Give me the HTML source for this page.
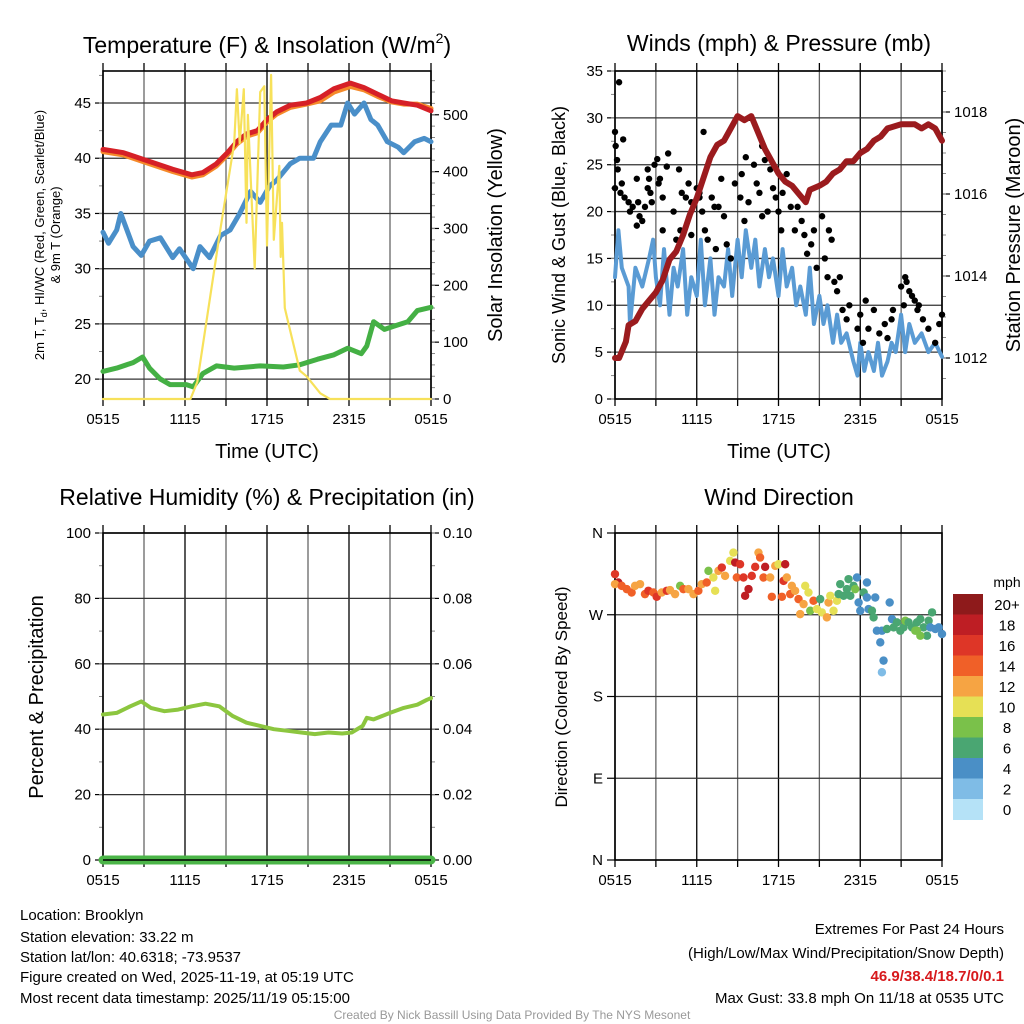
<!DOCTYPE html>
<html><head><meta charset="utf-8"><style>
html,body{margin:0;padding:0;background:#fff;}
svg{display:block;font-family:"Liberation Sans",sans-serif;}
</style></head><body>
<svg id="chart" width="1024" height="1024" viewBox="0 0 1024 1024" xmlns="http://www.w3.org/2000/svg">
<rect width="1024" height="1024" fill="#fff"/>
<g id="g1"></g>
<g id="g2"></g>
<g id="g3"></g>
<g id="g4"></g>
<text x="267" y="53" font-size="23" text-anchor="middle">Temperature (F) &amp; Insolation (W/m<tspan font-size="14" dy="-10">2</tspan><tspan dy="10">)</tspan></text>
<text x="779" y="51" font-size="23" text-anchor="middle">Winds (mph) &amp; Pressure (mb)</text>
<text x="267" y="505" font-size="23" text-anchor="middle">Relative Humidity (%) &amp; Precipitation (in)</text>
<text x="779" y="505" font-size="23" text-anchor="middle">Wind Direction</text>
<text x="267" y="458" font-size="20" text-anchor="middle">Time (UTC)</text>
<text x="779" y="458" font-size="20" text-anchor="middle">Time (UTC)</text>
<g font-size="13" text-anchor="middle">
<text transform="translate(44,235) rotate(-90)">2m T, T<tspan font-size="9" dy="3">d</tspan><tspan dy="-3">, HI/WC (Red, Green, Scarlet/Blue)</tspan></text>
<text transform="translate(60,235) rotate(-90)">&amp; 9m T (Orange)</text>
</g>
<text transform="translate(502,235) rotate(-90)" font-size="20" text-anchor="middle">Solar Insolation (Yellow)</text>
<text transform="translate(565,235) rotate(-90)" font-size="18" text-anchor="middle">Sonic Wind &amp; Gust (Blue, Black)</text>
<text transform="translate(1020,235) rotate(-90)" font-size="20" text-anchor="middle">Station Pressure (Maroon)</text>
<text transform="translate(43,697) rotate(-90)" font-size="20" text-anchor="middle">Percent &amp; Precipitation</text>
<text transform="translate(567,697) rotate(-90)" font-size="17" text-anchor="middle">Direction (Colored By Speed)</text>
<g font-size="15">
<text x="20" y="920">Location: Brooklyn</text>
<text x="20" y="942">Station elevation: 33.22 m</text>
<text x="20" y="962">Station lat/lon: 40.6318; -73.9537</text>
<text x="20" y="982">Figure created on Wed, 2025-11-19, at 05:19 UTC</text>
<text x="20" y="1003">Most recent data timestamp: 2025/11/19 05:15:00</text>
</g>
<g font-size="15" text-anchor="end">
<text x="1004" y="934">Extremes For Past 24 Hours</text>
<text x="1004" y="958">(High/Low/Max Wind/Precipitation/Snow Depth)</text>
<text x="1004" y="981" fill="#d7191c" font-weight="bold">46.9/38.4/18.7/0/0.1</text>
<text x="1004" y="1003">Max Gust: 33.8 mph On 11/18 at 0535 UTC</text>
</g>
<text x="512" y="1019" font-size="12" fill="#999" text-anchor="middle">Created By Nick Bassill Using Data Provided By The NYS Mesonet</text>
</svg>
<script>
// ---- data ----
const tickTimes = [0, 6, 12, 18, 24];
const tickLabels = ['0515', '1115', '1715', '2315', '0515'];
const tempT = [0,1.5,2.7,3.9,5.1,6.5,7.3,8.3,9.1,9.8,10.5,11.3,12,12.7,13.7,14.9,15.9,16.9,18.1,19.1,20.1,21.1,22,23,24];
const tempRed = [40.8,40.5,40,39.5,39,38.5,38.7,39.5,40.5,41.5,42.2,42.5,43.5,44.2,44.8,45,45.5,46.3,46.8,46.4,45.8,45.2,45,44.8,44.3];
const tempOrange = [40.6,40.3,39.8,39.3,38.8,38.3,38.5,39.3,40.3,41.3,42,42.3,43.3,44,44.6,44.9,45.2,46,46.5,46.2,45.6,45.1,44.9,44.9,44.5];
const blueT = [0,0.4,1,1.3,2.2,2.8,3.4,4.2,5.1,5.6,6.6,7.1,7.8,8.6,9.3,10,10.8,11.5,12.2,12.7,13.7,14.4,15.4,15.9,16.7,17.4,17.9,18.4,19.1,19.6,20.1,20.8,21.6,22,22.8,23.5,24];
const blueTemp = [33.3,32.3,33.5,35,32,31.2,32.5,32.8,31,31.8,30,32,31,33,33.5,35,37,36,37.5,38,39.5,40,40,41.5,43,43,45,44,45,43.5,43,41.5,41,40.5,41.5,41.8,41.5];
const dewT = [0,1,2.2,2.9,3.4,4.2,4.9,6.1,6.6,7.3,8.3,9.6,11.5,13.2,14.4,15.7,16.9,17.9,18.9,19.3,19.8,20.6,21.3,22.3,23,24];
const dewVals = [20.7,21,21.5,22,21,20,19.5,19.5,19.3,20.5,21.2,21,21.2,21.1,21.3,21.8,22.2,22.8,22.3,23,25.2,24.5,24.8,25.2,26.2,26.5];
const solT = [0,6.4,6.9,8.6,9.6,9.8,10,10.3,10.5,10.6,11.1,11.5,11.8,12,12.3,12.5,12.9,13,13.1,13.3,13.7,14.4,14.9,15.9,16.6,24];
const solVals = [0,0,30,300,450,545,450,545,310,500,230,540,550,270,570,280,410,250,310,160,120,50,40,10,0,0];
const windT = [0,0.25,0.5,1,1.1,1.5,2,2.5,2.8,3,3.3,3.6,4,4.3,4.6,5,5.3,5.6,6,6.3,6.6,7,7.3,7.6,8,8.3,8.6,9,9.3,9.6,10,10.3,10.6,11,11.3,11.6,12,12.3,12.6,13,13.3,13.6,14,14.3,14.6,15,15.3,15.6,16,16.3,16.6,17,17.5,17.8,18,18.3,18.6,19,19.3,19.6,20,20.3,20.6,21,21.3,21.6,22,22.5,23,23.5,24];
const windVals = [13,18,14,12,8,14,12,15,17,13,10,16,9,14,12,16,9,13,11,17,10,15,9,13,12,16,11,17,13,18,14,17,12,16,13,15,11,16,12,14,10,12,9,14,8,11,8,10,6,9,6,7,4,2.5,6,3,5,3,6,2.5,4,6,5,9,5,8,6,7,5,6,4.5];
const presT = [0,0.3,0.8,1,1.5,2,2.5,3,3.5,4,4.5,5,5.5,6,6.5,7,7.5,8,8.5,9,9.5,10,10.5,11,11.5,12,12.5,13,13.5,14,14.3,15,15.5,16,16.5,17,17.5,18,18.5,19,19.5,20,21,22,22.5,23,23.5,24];
const presVals = [1012,1012,1012.4,1012.8,1012.9,1013.2,1013.4,1013.6,1013.9,1014.4,1014.6,1015,1015.5,1015.9,1016.4,1016.9,1017.2,1017.3,1017.6,1017.9,1017.8,1017.9,1017.5,1017.1,1016.8,1016.5,1016.3,1016.2,1016,1015.8,1016.1,1016.2,1016.3,1016.5,1016.6,1016.8,1016.8,1017,1017.1,1017.3,1017.4,1017.6,1017.7,1017.7,1017.6,1017.7,1017.6,1017.3];
const gustT = [0,0,0.05,0.15,0.2,0.3,0.6,0.5,0.4,0.7,1,1.1,1.3,1.6,1.7,1.6,1.8,2,2.2,2.4,2.5,2.4,2.6,2.7,2.9,3.1,3.3,3.5,3.2,3.9,3.8,3.5,4.3,4.5,4.8,4.9,4.7,5.2,5.4,5.6,5.6,6,6.2,6.5,6.2,6.4,6.6,6.8,7.1,7.3,7.4,7.6,7.8,8,8.2,8.5,8.8,9.2,9.5,9.3,9.6,9.8,9.9,10.2,10.4,10.6,10.8,10.8,11,11.2,11.4,11.6,11.8,12,12.2,12.3,12.6,12.9,13.2,13.4,13.7,13.9,14.1,14.4,14.6,14.8,15.2,15.4,15.6,15.9,15.7,16.1,16.3,16.5,16.7,17.2,17,17.8,18.2,18,18.4,18.6,19,19.4,19.8,20,20.4,20.3,21,21.3,21.2,21.6,22,22.2,22.6,22.3,23,23.5,23.8,24,21.4,21.8];
const gustVals = [22.5,28.5,27,25.5,24.5,33.8,27.7,23,22,21.5,21,20,20.5,18.5,21,23.5,19.5,19,20.5,24.5,23.5,22.5,22,21,25,25.6,23.5,18,23,26.2,24.8,21.5,20,17,18,22,24.5,21.5,23,21,17.5,22.5,21.5,28.5,22,20,18,17,21.5,20.5,16,20.5,23.5,19.5,16.5,15,23,21.5,19,24,25.8,21,30,25,23,22,19.5,27,25.5,20,24.5,22.5,21.5,20,18,22,24,20.5,18,20.5,19,17.5,15.5,16.5,18,14,19.5,15,13,17,18,12.5,11.5,13,9.5,10,8.5,7.5,6,9,10.5,7.5,9.5,7,8,6.5,9.5,8.5,12,13,10,11.5,10.5,9.5,8.5,10,7.5,6,8,9,12.5,11];
const rhT = [0,1,2,2.8,3.5,4.5,5.5,6.5,7.5,8.5,9.5,10.5,11.5,12.5,13.5,14.5,15.5,16.5,17.5,18.2,19,19.3,19.8,21,22,23,23.7,24];
const rhVals = [44.5,45,47,48.5,46.5,45.5,46,47,47.8,47,44,42,41,40,39.5,39,38.5,39,38.7,39,41,43.5,43,45,46.5,47.5,49,49.5];
const precipT = [0,24];
const precipVals = [0,0];
const dirT = [0,0.24,0,0.49,0.86,1.22,1.47,1.84,2.2,2.45,2.82,3.06,3.43,3.8,4.04,4.41,4.78,5.02,5.39,5.76,6.12,6.37,6.73,6.86,7.22,7.35,7.59,7.84,8.08,8.45,8.69,8.82,9.18,8.94,9.43,9.55,9.8,10.04,10.29,10.53,10.65,11.02,10.9,11.39,11.51,11.76,12,12.25,12.37,12.49,12.61,12.86,12.98,13.22,13.47,13.59,13.84,13.96,14.2,14.33,14.57,14.82,15.06,15.18,15.55,15.67,15.8,16.04,16.29,16.41,16.53,16.78,17.02,17.14,17.27,17.51,17.63,17.76,17.88,18,18.25,18.49,18.49,18.61,18.86,18.98,19.1,19.22,19.47,19.59,19.71,19.59,19.96,20.16,20.33,20.45,20.69,20.94,21.18,21.31,21.55,21.8,22.04,22.16,22.41,22.65,22.9,23.02,23.14,23.27,23.51,23.76,24,22.41,22.16];
const dirVals = [314.7,305.5,303.7,301.8,298.2,294.5,301.8,303.7,292.7,296.4,294.5,289.8,294.5,296.4,297.1,292.7,301.8,298.2,298.2,292.7,296.4,303.7,305.5,318.3,311,296.4,318.3,322,312.8,329.3,338.4,327.5,325.6,311,311,290.9,298.2,312.8,322.7,338.4,333,322.7,311,311,289.8,323.8,325.6,289.8,307.3,325.6,311,292.7,301.8,296.4,287.2,270.7,281.7,301.8,294.5,274.4,285.4,276.2,287.2,272.6,267.1,283.5,290.9,274.4,285.4,292.7,303.7,290.9,298.2,309.2,290.9,301.8,298.2,311,283.5,274.4,294.5,305.5,289,276.2,274.4,267.1,289,252.4,239.6,252.4,219.5,206.7,254.3,283.5,265.2,256.1,261.6,252.4,256.1,263.4,261.6,256.1,252.4,261.6,265.2,256.1,246.9,263.4,256.1,272.6,254.3,256.1,248.8,246.9,252.4];
const dirSpeed = [16,18,12,14,14,14,13,12,15,16,14,16,13,16,12,12,8,14,12,12,14,12,15,8,10,10,12,16,13,10,10,18,16,14,16,18,18,16,16,12,14,18,15,13,15,12,10,14,16,18,12,15,12,12,15,12,12,10,10,8,14,10,6,10,12,12,10,10,10,6,6,6,6,6,6,6,8,4,4,4,6,4,4,4,6,6,4,4,4,4,4,2,6,4,4,6,6,6,6,8,6,6,8,6,6,6,6,6,4,6,4,4,4,8,8];
const cbLabels = ['20+','18','16','14','12','10','8','6','4','2','0'];
const cbColors = ['#8e1a1b','#be1e24','#de3627','#f06028','#f6a443','#e6e055','#7ac14a','#4aa672','#4a8fc6','#7fbce6','#b5e2f7'];

// ---- helpers ----
const NS = 'http://www.w3.org/2000/svg';
function mk(parent, tag, attrs, txt){
  const e = document.createElementNS(NS, tag);
  for (const k in attrs) e.setAttribute(k, attrs[k]);
  if (txt !== undefined) e.textContent = txt;
  parent.appendChild(e);
  return e;
}
function scale(d0,d1,r0,r1){ return v => r0 + (v-d0)/(d1-d0)*(r1-r0); }
function pathD(xs, ys, fx, fy){ return xs.map((t,i)=>(i?'L':'M')+fx(t).toFixed(1)+','+fy(ys[i]).toFixed(1)).join(''); }
function speedColor(s){ let idx = Math.min(10, Math.max(0, Math.floor(s/2))); return cbColors[10-idx]; }

function frame(g, L, R, T, B, fy, yTicks, yLabels, yMinor, rightTicks, rightFy, rightMinor){
  const fx = scale(0,24,L,R);
  for (let h=0; h<=24; h+=3){
    const x = fx(h);
    const gl = mk(g,'line',{x1:x,y1:T,x2:x,y2:B,stroke:(h%6==0)?'#000':'#666','stroke-width':1.3});
    
    
    mk(g,'line',{x1:x,y1:T-8,x2:x,y2:T,stroke:'#000','stroke-width':1.3});
    mk(g,'line',{x1:x,y1:B,x2:x,y2:B+7,stroke:'#000','stroke-width':1.3});
  }
  tickTimes.forEach((h,i)=>{
    const t = mk(g,'text',{x:fx(h),y:B+25,'font-size':15,'text-anchor':'middle'},tickLabels[i]);
    
    
  });
  yTicks.forEach((v,i)=>{
    const y = fy(v);
    const gl = mk(g,'line',{x1:L,y1:y,x2:R,y2:y,stroke:'#333','stroke-width':1.3});
    
    
    mk(g,'line',{x1:L-8,y1:y,x2:L,y2:y,stroke:'#000','stroke-width':1.2});
    const t = mk(g,'text',{x:L-12,y:y+5,'font-size':15,'text-anchor':'end'},yLabels[i]);
    
    
  });
  (yMinor||[]).forEach(v=>{ const y=fy(v); mk(g,'line',{x1:L-4,y1:y,x2:L,y2:y,stroke:'#888','stroke-width':1}); });
  if (rightTicks){
    rightTicks.vals.forEach((v,i)=>{
      const y = rightFy(v);
      mk(g,'line',{x1:R,y1:y,x2:R+8,y2:y,stroke:'#000','stroke-width':1.2});
      const t = mk(g,'text',{x:R+12,y:y+5,'font-size':15},rightTicks.labels[i]);
      
      
    });
    (rightMinor||[]).forEach(v=>{ const y=rightFy(v); mk(g,'line',{x1:R,y1:y,x2:R+4,y2:y,stroke:'#888','stroke-width':1}); });
  }
  const fr = mk(g,'rect',{x:L,y:T,width:R-L,height:B-T,fill:'none',stroke:'#000','stroke-width':1.6});
  
  
  return fx;
}
function line(g, xs, ys, fx, fy, color, w, name){
  const p = mk(g,'path',{d:pathD(xs,ys,fx,fy),fill:'none',stroke:color,'stroke-width':w,'stroke-linejoin':'round','stroke-linecap':'round'});
  
  
  return p;
}
function range(a,b,s){ const r=[]; for(let v=a; v<=b+1e-9; v+=s) r.push(+v.toFixed(4)); return r; }

// ---- panel 1 ----
(function(){
  const g = document.getElementById('g1');
  const L=103,R=431,T=71,B=399;
  const fy = scale(18.2,47.9,B,T);
  const fs = scale(0,577,B,T);
  const fx = frame(g,L,R,T,B,fy,[20,25,30,35,40,45],['20','25','30','35','40','45'],range(20,47.5,2.5),{vals:[0,100,200,300,400,500],labels:['0','100','200','300','400','500']},fs,range(0,575,20));
  line(g,dewT,dewVals,fx,fy,'#44b044',5,'dewpoint-line');
  line(g,blueT,blueTemp,fx,fy,'#4a8fc9',5,'windchill-line');
  line(g,tempT,tempOrange,fx,fy,'#f58a2a',5,'temp-9m-line');
  line(g,tempT,tempRed,fx,fy,'#d62027',5,'temp-2m-line');
  line(g,solT,solVals,fx,fs,'#f7e15a',2.2,'insolation-line');
})();

// ---- panel 2 ----
(function(){
  const g = document.getElementById('g2');
  const L=615,R=942,T=71,B=399;
  const fy = scale(0,35,B,T);
  const fp = scale(1011,1019,B,T);
  const fx = frame(g,L,R,T,B,fy,[0,5,10,15,20,25,30,35],['0','5','10','15','20','25','30','35'],range(0,35,2.5),{vals:[1012,1014,1016,1018],labels:['1012','1014','1016','1018']},fp,range(1011.5,1019,0.5));
  line(g,windT,windVals,fx,fy,'#5a9bd4',4,'sonic-wind-line');
  gustT.forEach((t,i)=>{
    const c = mk(g,'circle',{cx:fx(t),cy:fy(gustVals[i]),r:3.2,fill:'#000'});
    
    
  });
  line(g,presT,presVals,fx,fp,'#9b1b1e',6,'pressure-line');
})();

// ---- panel 3 ----
(function(){
  const g = document.getElementById('g3');
  const L=103,R=431,T=533,B=860;
  const fy = scale(0,100,B,T);
  const fpr = scale(0,0.1,B,T);
  const fx = frame(g,L,R,T,B,fy,[0,20,40,60,80,100],['0','20','40','60','80','100'],range(0,100,10),{vals:[0,0.02,0.04,0.06,0.08,0.1],labels:['0.00','0.02','0.04','0.06','0.08','0.10']},fpr,range(0,0.1,0.01));
  line(g,precipT,precipVals,fx,fpr,'#4bb548',9,'precip-line');
  mk(g,'line',{x1:L,y1:B,x2:R,y2:B,stroke:'#000','stroke-width':1.5});
  line(g,rhT,rhVals,fx,fy,'#8cc63f',4,'rh-line');
})();

// ---- panel 4 ----
(function(){
  const g = document.getElementById('g4');
  const L=615,R=942,T=533,B=860;
  const fy = scale(0,360,B,T);
  const fx = frame(g,L,R,T,B,fy,[0,90,180,270,360],['N','E','S','W','N'],[],null,null,null);
  dirT.forEach((t,i)=>{
    const c = mk(g,'circle',{cx:fx(t),cy:fy(dirVals[i]),r:4.2,fill:speedColor(dirSpeed[i])});
    
    
  });
  const cb = mk(g,'g',{});
  
  
  const cx=953, cw=30, cy0=594, ch=20.5;
  mk(cb,'text',{x:1007,y:587,'font-size':14,'text-anchor':'middle'},'mph');
  cbLabels.forEach((lab,i)=>{
    const r = mk(cb,'rect',{x:cx,y:cy0+i*ch,width:cw,height:ch+0.5,fill:cbColors[i]});
    
    
    mk(cb,'text',{x:1007,y:cy0+i*ch+16,'font-size':15,'text-anchor':'middle'},lab);
  });
})();
</script>
</body></html>
